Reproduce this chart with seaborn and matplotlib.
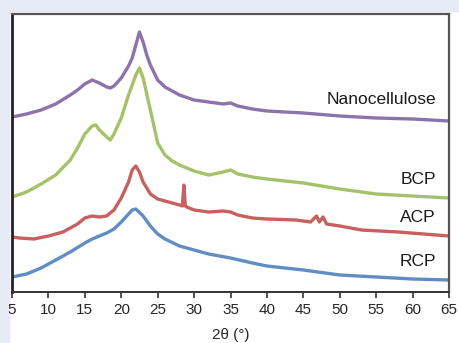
import numpy as np
import pandas as pd
import matplotlib
matplotlib.use("Agg")
import matplotlib.pyplot as plt
import seaborn as sns

# XRD patterns (2theta in degrees, intensity in a.u.)
nano_2t = [5, 7, 9, 11, 13, 14, 15, 16, 17, 18, 18.5, 19, 20, 21, 21.5, 22, 22.5,
           23, 23.5, 24, 25, 26, 28, 30, 32, 34, 35, 36, 38, 40, 45, 50, 55, 60, 65]
nano_i = [175, 178, 182, 188, 197, 202, 208, 212, 209, 205, 204, 206, 214, 226, 234,
          247, 260, 250, 237, 227, 212, 205, 197, 192, 190, 188, 189, 186, 183, 181,
          179, 176, 174, 173, 171]

bcp_2t = [5, 7, 9, 11, 13, 14, 15, 16, 16.5, 17, 18, 18.5, 19, 20, 21, 22, 22.5,
          23, 24, 25, 26, 27, 28, 30, 32, 34, 35, 36, 38, 40, 45, 50, 55, 60, 65]
bcp_i = [95, 100, 108, 117, 132, 144, 158, 166, 167, 162, 155, 152, 158, 174, 197,
         217, 224, 214, 182, 149, 137, 131, 127, 121, 117, 120, 122, 118, 115, 113,
         109, 103, 98, 96, 94]

acp_2t = [5, 6, 8, 10, 12, 14, 15, 16, 17, 18, 19, 20, 21, 21.5, 22, 22.5, 23, 24,
          25, 26, 27, 28, 28.4, 28.6, 28.8, 29, 30, 32, 34, 35, 36, 38, 40, 44, 45,
          46, 46.8, 47.2, 47.7, 48.2, 50, 53, 58, 65]
acp_i = [55, 54, 53, 56, 60, 68, 74, 76, 75, 76, 82, 94, 110, 122, 126, 120, 110, 98,
         93, 91, 89, 87, 86, 107, 86, 85, 82, 80, 81, 80, 77, 74, 73, 72, 71,
         70, 76, 70, 75, 68, 66, 62, 60, 56]

rcp_2t = [5, 7, 9, 11, 13, 15, 16, 17, 18, 19, 20, 21, 21.5, 22, 23, 24, 25, 26, 28,
          30, 32, 35, 38, 40, 45, 50, 55, 60, 65]
rcp_i = [15, 18, 24, 32, 40, 49, 53, 56, 59, 63, 70, 78, 82, 83, 76, 66, 58, 53, 46,
         42, 38, 34, 29, 26, 22, 17, 15, 13, 12]

samples = ["Nanocellulose", "BCP", "ACP", "RCP"]
colors = ["#8064A2", "#9BBB59", "#C0504D", "#4F81BD"]
label_y = [192, 112, 74, 30]

df = pd.concat([
    pd.DataFrame({"two_theta": nano_2t, "intensity": nano_i, "sample": "Nanocellulose"}),
    pd.DataFrame({"two_theta": bcp_2t, "intensity": bcp_i, "sample": "BCP"}),
    pd.DataFrame({"two_theta": acp_2t, "intensity": acp_i, "sample": "ACP"}),
    pd.DataFrame({"two_theta": rcp_2t, "intensity": rcp_i, "sample": "RCP"}),
])

sns.set_style("white")
plt.rcParams["font.family"] = ["Liberation Sans", "DejaVu Sans"]

fig = plt.figure(figsize=(4.59, 3.43), dpi=100, facecolor="white")
# screenshot border
fig.patches.append(plt.Rectangle((0, 1 - 11 / 343), 1, 11 / 343, transform=fig.transFigure,
                                 color="#e6eaf5", zorder=-1))
fig.patches.append(plt.Rectangle((0, 0), 9 / 459, 1, transform=fig.transFigure,
                                 color="#e6eaf5", zorder=-1))

ax = fig.add_axes([12 / 459, 1 - 292 / 343, (449 - 12) / 459, (292 - 14) / 343])
sns.lineplot(data=df, x="two_theta", y="intensity", hue="sample", hue_order=samples,
             palette=colors, linewidth=2.4, alpha=0.9, legend=False, ax=ax, sort=False)

for name, c, y in zip(samples, colors, label_y):
    ax.text(63.2, y, name, ha="right", va="center", fontsize=12.5, color="#1a1a1a")

ax.set_xlim(5, 65)
ax.set_ylim(0, 278)
ax.set_xticks(np.arange(5, 66, 5))
ax.set_yticks([])
ax.tick_params(axis="x", direction="out", length=4, width=1.2, color="#333333",
               labelsize=11, pad=4, bottom=True)
ax.set_xlabel("2θ (°)", fontsize=11, labelpad=8)
ax.set_ylabel("")
for s in ["top", "right"]:
    ax.spines[s].set_color("#555555")
    ax.spines[s].set_linewidth(1.6)
ax.spines["bottom"].set_color("#333333")
ax.spines["bottom"].set_linewidth(1.4)
ax.spines["left"].set_color("#222222")
ax.spines["left"].set_linewidth(2)

fig.savefig("out.png", dpi=100, facecolor=fig.get_facecolor())
